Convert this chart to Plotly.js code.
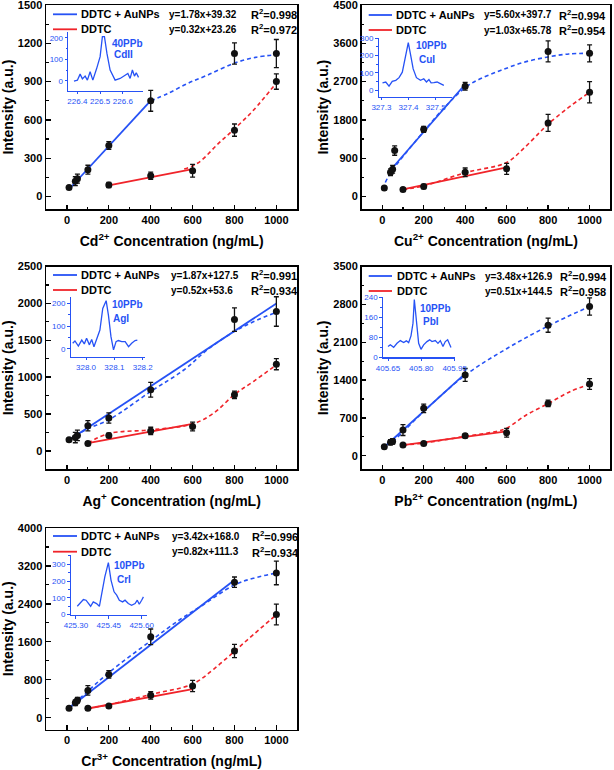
<!DOCTYPE html>
<html><head><meta charset="utf-8">
<script src="https://cdn.plot.ly/plotly-3.0.1.min.js"></script>
<style>html,body{margin:0;padding:0;background:#fff}</style>
</head><body><div id="chart" style="width:614px;height:770px"></div>
<script>
// ---------------- DATA ----------------
const concAu = [10, 40, 50, 100, 200, 400, 800, 1000];
const concAuCu = [10, 40, 50, 60, 200, 400, 800, 1000];
const concRed = [100, 200, 400, 600, 800, 1000];
const concRedCd = [200, 400, 600, 800, 1000];
const xTickVals = [0, 200, 400, 600, 800, 1000];
const legendNames = ['DDTC + AuNPs', 'DDTC'];
const yTitle = 'Intensity (a.u.)';

// Cd
const cdAuY = [70, 120, 140, 210, 400, 750, 1120, 1120];
const cdAuErr = [10, 35, 35, 35, 30, 82, 83, 110];
const cdRedY = [90, 163, 202, 520, 900];
const cdRedErr = [20, 28, 50, 48, 60];
const cdFitAuX = [10, 400], cdFitAuY = [57, 751];
const cdFitRedX = [200, 600], cdFitRedY = [87, 215];
const cdDashAuX = [400, 480, 575, 670, 800, 900, 1000];
const cdDashAuY = [750, 805, 885, 950, 1045, 1090, 1110];
const cdDashRedX = [560, 600, 640, 720, 800, 890, 1000];
const cdDashRedY = [215, 240, 280, 410, 530, 675, 890];
const cdYTicks = [0, 300, 600, 900, 1200, 1500];
const cdEq = ['y=1.78x+39.32', 'y=0.32x+23.26'];
const cdR2 = ['R<sup>2</sup>=0.998', 'R<sup>2</sup>=0.972'];
const cdSpecX = [226.385, 226.4, 226.412, 226.422, 226.434, 226.444, 226.456, 226.468, 226.485, 226.5, 226.51, 226.519, 226.53, 226.544, 226.566, 226.588, 226.61, 226.622, 226.632, 226.642, 226.651, 226.659, 226.669];
const cdSpecY = [-1, 3, 31, 9, 22, 3, 42, 3, 58, 112, 205, 205, 127, 50, 3, 11, 26, 34, 11, 50, 22, 37, 16];
const cdSpecXTicks = [226.4, 226.5, 226.6], cdSpecXText = ['226.4', '226.5', '226.6'];
const cdSpecYTicks = [0, 100, 200];
const cdLabel = ['40PPb', 'CdII'];

// Cu
const cuAuY = [200, 570, 640, 1080, 1580, 2590, 3410, 3365];
const cuAuErr = [40, 80, 90, 110, 70, 90, 245, 200];
const cuRedY = [165, 235, 570, 650, 1730, 2450];
const cuRedErr = [30, 50, 100, 130, 200, 250];
const cuFitAuX = [35, 400], cuFitAuY = [594, 2638];
const cuFitRedX = [100, 600], cuFitRedY = [169, 684];
const cuDashAuX = [15, 40, 100, 200, 300, 400, 470, 570, 680, 800, 900, 1000];
const cuDashAuY = [330, 560, 940, 1530, 2090, 2560, 2760, 2960, 3150, 3280, 3350, 3365];
const cuDashRedX = [100, 200, 400, 600, 680, 760, 800, 890, 1000];
const cuDashRedY = [165, 250, 560, 800, 1120, 1510, 1700, 2060, 2450];
const cuYTicks = [0, 900, 1800, 2700, 3600, 4500];
const cuEq = ['y=5.60x+397.7', 'y=1.03x+65.78'];
const cuR2 = ['R<sup>2</sup>=0.994', 'R<sup>2</sup>=0.954'];
const cuSpecX = [327.304, 327.316, 327.328, 327.34, 327.353, 327.365, 327.377, 327.389, 327.399, 327.407, 327.417, 327.429, 327.444, 327.456, 327.466, 327.475, 327.483, 327.493, 327.505, 327.517, 327.53];
const cuSpecY = [42, 47, 23, 51, 57, 72, 104, 189, 275, 208, 123, 72, 57, 66, 47, 61, 42, 44, 47, 38, 28];
const cuSpecXTicks = [327.3, 327.4, 327.5], cuSpecXText = ['327.3', '327.4', '327.5'];
const cuSpecYTicks = [0, 100, 200, 300];
const cuLabel = ['10PPb', 'CuI'];

// Ag
const agAuY = [150, 180, 210, 340, 445, 830, 1780, 1890];
const agAuErr = [20, 70, 70, 70, 70, 100, 160, 200];
const agRedY = [100, 210, 270, 330, 760, 1175];
const agRedErr = [20, 30, 50, 60, 50, 75];
const agFitAuX = [10, 1000], agFitAuY = [146, 1998];
const agFitRedX = [100, 600], agFitRedY = [106, 366];
const agDashAuX = [10, 100, 200, 400, 560, 670, 800, 890, 1000];
const agDashAuY = [150, 300, 420, 805, 1100, 1370, 1620, 1750, 1880];
const agDashRedX = [100, 200, 400, 600, 700, 800, 890, 1000];
const agDashRedY = [105, 235, 285, 365, 510, 765, 940, 1165];
const agYTicks = [0, 500, 1000, 1500, 2000, 2500];
const agEq = ['y=1.87x+127.5', 'y=0.52x+53.6'];
const agR2 = ['R<sup>2</sup>=0.991', 'R<sup>2</sup>=0.934'];
const agSpecX = [327.953, 327.961, 327.973, 327.985, 327.994, 328.002, 328.012, 328.02, 328.028, 328.038, 328.049, 328.059, 328.071, 328.079, 328.088, 328.097, 328.106, 328.114, 328.126, 328.138, 328.15, 328.161, 328.173, 328.181];
const agSpecY = [25, 35, 13, 39, 22, 47, 18, 42, 10, 47, 83, 178, 212, 149, 54, -4, 32, 37, 32, 32, 10, 25, 37, 39];
const agSpecXTicks = [328.0, 328.1, 328.2], agSpecXText = ['328.0', '328.1', '328.2'];
const agSpecYTicks = [0, 100, 200];
const agLabel = ['10PPb', 'AgI'];

// Pb
const pbAuY = [167, 250, 265, 475, 877, 1494, 2414, 2760];
const pbAuErr = [20, 50, 50, 100, 80, 120, 130, 160];
const pbRedY = [198, 228, 370, 426, 969, 1327];
const pbRedErr = [25, 30, 40, 80, 60, 100];
const pbFitAuX = [10, 400], pbFitAuY = [162, 1519];
const pbFitRedX = [100, 600], pbFitRedY = [196, 451];
const pbDashAuX = [50, 100, 200, 400, 600, 800, 1000];
const pbDashAuY = [260, 440, 820, 1490, 1980, 2400, 2760];
const pbDashRedX = [100, 200, 400, 550, 600, 695, 800, 905, 1000];
const pbDashRedY = [200, 235, 360, 450, 510, 755, 965, 1185, 1325];
const pbYTicks = [0, 700, 1400, 2100, 2800, 3500];
const pbEq = ['y=3.48x+126.9', 'y=0.51x+144.5'];
const pbR2 = ['R<sup>2</sup>=0.994', 'R<sup>2</sup>=0.958'];
const pbSpecX = [405.65, 405.6605, 405.6755, 405.6905, 405.7055, 405.7205, 405.7325, 405.743, 405.7535, 405.7625, 405.7685, 405.7775, 405.788, 405.7985, 405.8105, 405.8255, 405.8375, 405.848, 405.863, 405.875, 405.8855, 405.8975, 405.908, 405.9185, 405.9275, 405.9335];
const pbSpecY = [43, 50, 40, 56, 67, 59, 66, 59, 86, 137, 232, 137, 56, 32, 50, 63, 70, 63, 67, 56, 67, 43, 63, 70, 50, 39];
const pbSpecXTicks = [405.65, 405.80, 405.95], pbSpecXText = ['405.65', '405.80', '405.95'];
const pbSpecYTicks = [0, 80, 160, 240];
const pbLabel = ['10PPb', 'PbI'];

// Cr
const crAuY = [200, 316, 365, 575, 912, 1705, 2856, 3053];
const crAuErr = [20, 60, 60, 100, 80, 165, 110, 250];
const crRedY = [196, 246, 470, 667, 1404, 2175];
const crRedErr = [25, 30, 80, 120, 140, 220];
const crFitAuX = [10, 800], crFitAuY = [202, 2904];
const crFitRedX = [100, 600], crFitRedY = [193, 603];
const crDashAuX = [10, 100, 200, 400, 540, 640, 800, 890, 1000];
const crDashAuY = [200, 560, 950, 1620, 2070, 2350, 2800, 2940, 3050];
const crDashRedX = [100, 200, 400, 600, 700, 800, 890, 1000];
const crDashRedY = [196, 275, 490, 710, 1020, 1400, 1750, 2170];
const crYTicks = [0, 800, 1600, 2400, 3200, 4000];
const crEq = ['y=3.42x+168.0', 'y=0.82x+111.3'];
const crR2 = ['R<sup>2</sup>=0.996', 'R<sup>2</sup>=0.934'];
const crSpecX = [425.306, 425.318, 425.334, 425.346, 425.356, 425.367, 425.379, 425.394, 425.407, 425.417, 425.432, 425.448, 425.46, 425.474, 425.486, 425.498, 425.513, 425.524, 425.539, 425.554, 425.57, 425.58, 425.589, 425.6, 425.608];
const crSpecY = [50, 66, 90, 86, 66, 50, 76, 66, 50, 126, 226, 310, 206, 136, 116, 86, 76, 86, 66, 56, 66, 86, 62, 86, 106];
const crSpecXTicks = [425.30, 425.45, 425.60], crSpecXText = ['425.30', '425.45', '425.60'];
const crSpecYTicks = [0, 100, 200, 300];
const crLabel = ['10PPb', 'CrI'];

// ---------------- STYLE / GEOMETRY ----------------
const W = 614, H = 770;
const FONT = 'Liberation Sans, Arial, Helvetica, sans-serif';
const BLUE = 'rgb(38,82,245)';
const RED = 'rgb(240,36,42)';
const px = v => v / W;
const py = v => 1 - v / H;

const panels = [
  {xTitle: 'Cd<sup>2+</sup> Concentration (ng/mL)', yRange: [-100, 1500], yTicks: cdYTicks, yMinor: 150,
   auX: concAu, auY: cdAuY, auErr: cdAuErr, redX: concRedCd, redY: cdRedY, redErr: cdRedErr,
   fitAu: [cdFitAuX, cdFitAuY], fitRed: [cdFitRedX, cdFitRedY], dashAu: [cdDashAuX, cdDashAuY], dashRed: [cdDashRedX, cdDashRedY],
   eq: cdEq, r2: cdR2, spec: [cdSpecX, cdSpecY], specXR: [226.36, 226.69], specYR: [-46, 228],
   specXT: [cdSpecXTicks, cdSpecXText], specYT: cdSpecYTicks, specYMinor: 50, label: cdLabel,
   box: {l: 46, r: 297.3, t: 5, b: 209.3}, ib: {l: 68.3, r: 143.3, t: 31.7, b: 90.7},
   leg: {x0: 53, x1: 77, tx: 80, rows: [14.3, 29.3], eqX: 167.7, r2X: 250}, lab: [[111, 43.3], [112.7, 55]]},
  {xTitle: 'Cu<sup>2+</sup> Concentration (ng/mL)', yRange: [-300, 4500], yTicks: cuYTicks, yMinor: 450,
   auX: concAuCu, auY: cuAuY, auErr: cuAuErr, redX: concRed, redY: cuRedY, redErr: cuRedErr,
   fitAu: [cuFitAuX, cuFitAuY], fitRed: [cuFitRedX, cuFitRedY], dashAu: [cuDashAuX, cuDashAuY], dashRed: [cuDashRedX, cuDashRedY],
   eq: cuEq, r2: cuR2, spec: [cuSpecX, cuSpecY], specXR: [327.29, 327.56], specYR: [-38, 300],
   specXT: [cuSpecXTicks, cuSpecXText], specYT: cuSpecYTicks, specYMinor: 50, label: cuLabel,
   box: {l: 361.5, r: 610.3, t: 5, b: 209.3}, ib: {l: 378.7, r: 452, t: 38.3, b: 96.7},
   leg: {x0: 368.7, x1: 392, tx: 395.3, rows: [15, 30], eqX: 483, r2X: 557.7}, lab: [[415.3, 45.7], [418, 59.3]]},
  {xTitle: 'Ag<sup>+</sup> Concentration (ng/mL)', yRange: [-250, 2500], yTicks: agYTicks, yMinor: 250,
   auX: concAu, auY: agAuY, auErr: agAuErr, redX: concRed, redY: agRedY, redErr: agRedErr,
   fitAu: [agFitAuX, agFitAuY], fitRed: [agFitRedX, agFitRedY], dashAu: [agDashAuX, agDashAuY], dashRed: [agDashRedX, agDashRedY],
   eq: agEq, r2: agR2, spec: [agSpecX, agSpecY], specXR: [327.946, 328.208], specYR: [-34, 227],
   specXT: [agSpecXTicks, agSpecXText], specYT: agSpecYTicks, specYMinor: 50, label: agLabel,
   box: {l: 46, r: 297.3, t: 266.5, b: 469.3}, ib: {l: 70.7, r: 145, t: 297.3, b: 356.7},
   leg: {x0: 53, x1: 77, tx: 80, rows: [275, 290], eqX: 170, r2X: 250}, lab: [[111, 304], [111.7, 318.3]]},
  {xTitle: 'Pb<sup>2+</sup> Concentration (ng/mL)', yRange: [-250, 3500], yTicks: pbYTicks, yMinor: 350,
   auX: concAu, auY: pbAuY, auErr: pbAuErr, redX: concRed, redY: pbRedY, redErr: pbRedErr,
   fitAu: [pbFitAuX, pbFitAuY], fitRed: [pbFitRedX, pbFitRedY], dashAu: [pbDashAuX, pbDashAuY], dashRed: [pbDashRedX, pbDashRedY],
   eq: pbEq, r2: pbR2, spec: [pbSpecX, pbSpecY], specXR: [405.6275, 405.953], specYR: [0, 243],
   specXT: [pbSpecXTicks, pbSpecXText], specYT: pbSpecYTicks, specYMinor: 40, label: pbLabel,
   box: {l: 361.5, r: 610.3, t: 266.5, b: 469.3}, ib: {l: 383, r: 455.3, t: 296.7, b: 357.3},
   leg: {x0: 368.7, x1: 392, tx: 396, rows: [276, 291], eqX: 483.7, r2X: 558.7}, lab: [[418.7, 308.3], [422, 321.7]]},
  {xTitle: 'Cr<sup>3+</sup> Concentration (ng/mL)', yRange: [-250, 4000], yTicks: crYTicks, yMinor: 400,
   auX: concAu, auY: crAuY, auErr: crAuErr, redX: concRed, redY: crRedY, redErr: crRedErr,
   fitAu: [crFitAuX, crFitAuY], fitRed: [crFitRedX, crFitRedY], dashAu: [crDashAuX, crDashAuY], dashRed: [crDashRedX, crDashRedY],
   eq: crEq, r2: crR2, spec: [crSpecX, crSpecY], specXR: [425.276, 425.623], specYR: [-2, 355],
   specXT: [crSpecXTicks, crSpecXText], specYT: crSpecYTicks, specYMinor: 50, label: crLabel,
   box: {l: 46, r: 297.3, t: 528, b: 729.5}, ib: {l: 70.7, r: 146.7, t: 555, b: 615},
   leg: {x0: 53, x1: 77, tx: 80, rows: [536, 551.7], eqX: 170.7, r2X: 250.7}, lab: [[113.3, 565.7], [116, 579.3]]}
];

const data = [];
const layout = {
  width: W, height: H, margin: {l: 0, r: 0, t: 0, b: 0},
  paper_bgcolor: '#fff', plot_bgcolor: 'rgba(0,0,0,0)', showlegend: false,
  font: {family: FONT, color: '#000', size: 11},
  annotations: [], shapes: []
};

const boldFont = (size, color) => ({family: FONT, size: size, color: color || '#000', weight: 'bold'});

function ann(x, y, text, font) {
  layout.annotations.push({xref: 'paper', yref: 'paper', x: px(x), y: py(y), text: text,
    showarrow: false, xanchor: 'left', yanchor: 'middle', align: 'left', font: font, borderpad: 0});
}

panels.forEach((p, i) => {
  const n = i + 1, m = i + 6;
  const xa = 'x' + (n === 1 ? '' : n), ya = 'y' + (n === 1 ? '' : n);
  const xi = 'x' + m, yi = 'y' + m;
  const common = {xaxis: xa, yaxis: ya, hoverinfo: 'skip', showlegend: false};

  data.push(Object.assign({x: p.dashAu[0], y: p.dashAu[1], mode: 'lines',
    line: {color: BLUE, width: 1.6, dash: '4px,3px', shape: 'spline', smoothing: 1}}, common));
  data.push(Object.assign({x: p.dashRed[0], y: p.dashRed[1], mode: 'lines',
    line: {color: RED, width: 1.6, dash: '4px,3px', shape: 'spline', smoothing: 1}}, common));
  data.push(Object.assign({x: p.fitAu[0], y: p.fitAu[1], mode: 'lines', name: legendNames[0],
    line: {color: BLUE, width: 1.8}}, common));
  data.push(Object.assign({x: p.fitRed[0], y: p.fitRed[1], mode: 'lines', name: legendNames[1],
    line: {color: RED, width: 1.8}}, common));
  data.push(Object.assign({x: p.auX, y: p.auY, mode: 'markers',
    marker: {color: '#111', size: 7},
    error_y: {type: 'data', array: p.auErr, visible: true, color: '#111', thickness: 1.3, width: 2.5}}, common));
  data.push(Object.assign({x: p.redX, y: p.redY, mode: 'markers',
    marker: {color: '#111', size: 7},
    error_y: {type: 'data', array: p.redErr, visible: true, color: '#111', thickness: 1.3, width: 2.5}}, common));
  data.push({x: p.spec[0], y: p.spec[1], mode: 'lines', xaxis: xi, yaxis: yi, hoverinfo: 'skip', showlegend: false,
    line: {color: BLUE, width: 1.3}});

  const axBase = {showline: true, mirror: true, linecolor: '#000', linewidth: 1.5,
    ticks: 'inside', ticklen: 4.5, tickwidth: 1.3, tickcolor: '#000', ticklabeloverflow: 'allow',
    showgrid: false, zeroline: false, tickfont: boldFont(11)};
  layout['xaxis' + (n === 1 ? '' : n)] = Object.assign({}, axBase, {
    domain: [px(p.box.l), px(p.box.r)], anchor: ya, range: [-100, 1100],
    tickmode: 'array', tickvals: xTickVals,
    minor: {tickmode: 'linear', tick0: 0, dtick: 100, ticks: 'inside', ticklen: 2.5, tickwidth: 1.2, tickcolor: '#000'},
    title: {text: p.xTitle, font: boldFont(14), standoff: 11}
  });
  layout['yaxis' + (n === 1 ? '' : n)] = Object.assign({}, axBase, {
    domain: [py(p.box.b), py(p.box.t)], anchor: xa, range: p.yRange,
    tickmode: 'array', tickvals: p.yTicks,
    minor: {tickmode: 'linear', tick0: 0, dtick: p.yMinor, ticks: 'inside', ticklen: 2.5, tickwidth: 1.2, tickcolor: '#000'},
    title: {text: yTitle, font: boldFont(14), standoff: 1}
  });

  const inBase = {showline: true, mirror: false, linecolor: BLUE, linewidth: 1.2,
    ticks: 'outside', ticklen: 2.5, tickwidth: 1, tickcolor: BLUE, showgrid: false, zeroline: false,
    ticklabeloverflow: 'allow', tickfont: {family: FONT, size: 8, color: BLUE}};
  layout['xaxis' + m] = Object.assign({}, inBase, {
    domain: [px(p.ib.l), px(p.ib.r)], anchor: yi, range: p.specXR,
    tickmode: 'array', tickvals: p.specXT[0], ticktext: p.specXT[1]
  });
  layout['yaxis' + m] = Object.assign({}, inBase, {
    domain: [py(p.ib.b), py(p.ib.t)], anchor: xi, range: p.specYR,
    tickmode: 'array', tickvals: p.specYT,
    minor: {tickmode: 'linear', tick0: 0, dtick: p.specYMinor, ticks: 'outside', ticklen: 1.5, tickwidth: 1, tickcolor: BLUE}
  });

  // legend samples & texts
  [BLUE, RED].forEach((c, k) => {
    layout.shapes.push({type: 'line', xref: 'paper', yref: 'paper',
      x0: px(p.leg.x0), x1: px(p.leg.x1), y0: py(p.leg.rows[k]), y1: py(p.leg.rows[k]),
      line: {color: c, width: 1.8}});
    ann(p.leg.tx, p.leg.rows[k], legendNames[k], boldFont(11));
    ann(p.leg.eqX, p.leg.rows[k], p.eq[k], boldFont(10));
    ann(p.leg.r2X, p.leg.rows[k], p.r2[k], boldFont(11));
  });
  ann(p.lab[0][0], p.lab[0][1], p.label[0], boldFont(10, BLUE));
  ann(p.lab[1][0], p.lab[1][1], p.label[1], boldFont(10, BLUE));
});

Plotly.newPlot('chart', data, layout, {displayModeBar: false, staticPlot: true});
</script>
</body></html>
